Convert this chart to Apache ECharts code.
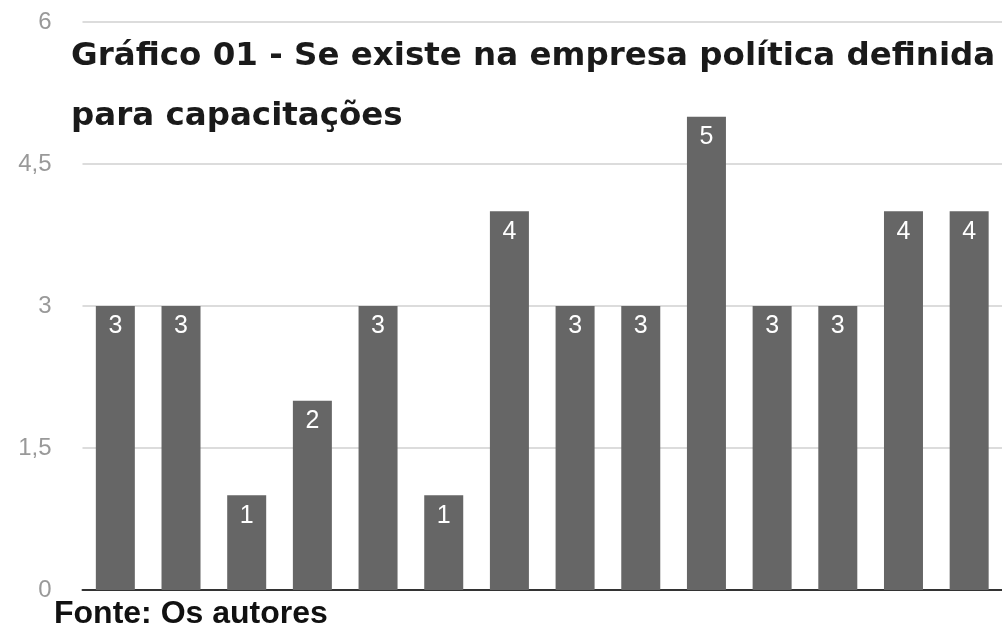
<!DOCTYPE html>
<html>
<head>
<meta charset="utf-8">
<script src="https://cdn.jsdelivr.net/npm/echarts@6/dist/echarts.min.js"></script>
<style>
  html, body { margin: 0; padding: 0; background: #fff; }
  #chart { width: 1002px; height: 630px; }
</style>
</head>
<body>
<div id="chart"></div>
<script>
// respostas por empresa
const categorias = ["1", "2", "3", "4", "5", "6", "7", "8", "9", "10", "11", "12", "13", "14"];
const valores = [3, 3, 1, 2, 3, 1, 4, 3, 3, 5, 3, 3, 4, 4];
const yTicks = [0, 1.5, 3, 4.5, 6];

const chart = echarts.init(document.getElementById("chart"));

const option = {
  backgroundColor: "#ffffff",
  animation: false,
  title: [
    {
      text: "Gráfico 01 - Se existe na empresa política definida\npara capacitações",
      left: 66,
      top: 22,
      textStyle: {
        fontFamily: "DejaVu Sans",
        fontWeight: "bold",
        fontSize: 32.5,
        lineHeight: 60,
        color: "#1a1a1a",
      },
    },
    {
      text: "Fonte: Os autores",
      left: 49,
      top: 593,
      textStyle: {
        fontFamily: "Liberation Sans",
        fontWeight: "bold",
        fontSize: 32,
        color: "#111",
      },
    },
  ],
  grid: {
    left: 82.5,
    top: 22,
    width: 924,
    height: 568,
  },
  xAxis: {
    type: "category",
    data: categorias,
    axisLine: { show: true, lineStyle: { color: "#333", width: 2 } },
    axisTick: { show: false },
    axisLabel: { show: false },
  },
  yAxis: {
    type: "value",
    min: yTicks[0],
    max: yTicks[yTicks.length - 1],
    interval: 1.5,
    axisLine: { show: false },
    axisTick: { show: false },
    splitLine: { show: true, lineStyle: { color: "#dcdcdc", width: 2 } },
    axisLabel: {
      margin: 31,
      color: "#999999",
      fontFamily: "Liberation Sans",
      fontSize: 24,
      formatter: (v) => String(v).replace(".", ","),
    },
  },
  series: [
    {
      type: "bar",
      data: valores,
      barWidth: 39,
      itemStyle: { color: "#666666" },
      label: {
        show: true,
        position: "insideTop",
        distance: 8,
        color: "#ffffff",
        fontFamily: "Liberation Sans",
        fontSize: 25,
      },
    },
  ],
};

chart.setOption(option);
</script>
</body>
</html>
